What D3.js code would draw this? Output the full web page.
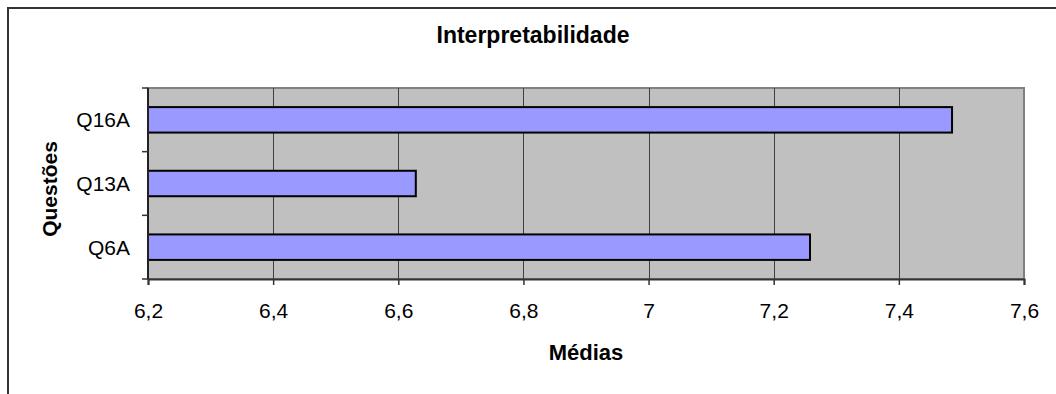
<!DOCTYPE html>
<html>
<head>
<meta charset="utf-8">
<script src="https://cdn.jsdelivr.net/npm/d3@7"></script>
<style>
  html, body { margin: 0; padding: 0; background: #fff; }
  svg { display: block; font-family: "Liberation Sans", Arial, sans-serif; }
</style>
</head>
<body>
<svg id="chart" width="1056" height="394"></svg>
<script>
// Mean scores per question (top to bottom as drawn)
const categories = ["Q16A", "Q13A", "Q6A"];
const values = [7.485, 6.628, 7.258];
const xTicks = [6.2, 6.4, 6.6, 6.8, 7.0, 7.2, 7.4, 7.6];

const title = "Interpretabilidade";
const xTitle = "Médias";
const yTitle = "Questões";

const svg = d3.select("#chart");
const W = 1056, H = 394;
const plot = { left: 148, top: 88, right: 1024, bottom: 279 };

// Outer chart frame (runs past the right and bottom edges)
svg.append("rect")
  .attr("x", 8).attr("y", 8)
  .attr("width", W + 10).attr("height", H + 10)
  .attr("fill", "#fff").attr("stroke", "#333").attr("stroke-width", 2);

const x = d3.scaleLinear().domain([6.2, 7.6]).range([plot.left, plot.right]);
const y = d3.scaleBand().domain(categories).range([plot.top, plot.bottom]).paddingInner(0.6).paddingOuter(0.3);
const yBand = d3.scaleBand().domain(categories).range([plot.top, plot.bottom]);

// Plot background
svg.append("rect")
  .attr("x", plot.left).attr("y", plot.top)
  .attr("width", plot.right - plot.left).attr("height", plot.bottom - plot.top)
  .attr("fill", "#c0c0c0").attr("stroke", "#808080").attr("stroke-width", 2);

// Vertical gridlines
svg.append("g").selectAll("line")
  .data(xTicks.slice(1, -1))
  .join("line")
  .attr("x1", d => Math.round(x(d)) + 0.5).attr("x2", d => Math.round(x(d)) + 0.5)
  .attr("y1", plot.top).attr("y2", plot.bottom)
  .attr("stroke", "#404040").attr("stroke-width", 1);

// Bars
svg.append("g").selectAll("rect")
  .data(categories)
  .join("rect")
  .attr("x", x(6.2))
  .attr("y", d => y(d))
  .attr("width", (d, i) => x(values[i]) - x(6.2))
  .attr("height", y.bandwidth())
  .attr("fill", "#9999ff").attr("stroke", "#000").attr("stroke-width", 2);

// X axis
const xAxis = d3.axisBottom(x)
  .tickValues(xTicks)
  .tickSize(6)
  .tickPadding(18)
  .tickFormat(d => d3.format("~g")(d).replace(".", ","));
const gx = svg.append("g").attr("transform", `translate(0,${plot.bottom})`).call(xAxis);
gx.select(".domain").attr("stroke", "#333").attr("stroke-width", 2);
gx.selectAll(".tick line").attr("stroke", "#333").attr("stroke-width", 1.5);
gx.selectAll(".tick text").attr("font-size", 21).attr("fill", "#000")
  .attr("font-family", "Liberation Sans, Arial, sans-serif");

// Y axis: ticks sit on category boundaries
const gy = svg.append("g").attr("transform", `translate(${plot.left},0)`);
gy.append("line")
  .attr("x1", 0).attr("x2", 0).attr("y1", plot.top).attr("y2", plot.bottom)
  .attr("stroke", "#222").attr("stroke-width", 2);
const boundaries = categories.map(c => yBand(c)).concat([plot.bottom]);
gy.selectAll("line.tick")
  .data(boundaries)
  .join("line")
  .attr("class", "tick")
  .attr("x1", -6).attr("x2", 0)
  .attr("y1", d => d).attr("y2", d => d)
  .attr("stroke", "#333").attr("stroke-width", 1.5);
gy.selectAll("text")
  .data(categories)
  .join("text")
  .attr("x", -18)
  .attr("y", d => yBand(d) + yBand.bandwidth() / 2)
  .attr("dy", "0.35em")
  .attr("text-anchor", "end")
  .attr("font-size", 21)
  .text(d => d);

// Titles
svg.append("text")
  .attr("x", 533).attr("y", 43)
  .attr("text-anchor", "middle")
  .attr("font-size", 23).attr("font-weight", "bold")
  .text(title);

svg.append("text")
  .attr("x", (plot.left + plot.right) / 2).attr("y", 360)
  .attr("text-anchor", "middle")
  .attr("font-size", 22).attr("font-weight", "bold")
  .text(xTitle);

svg.append("text")
  .attr("transform", "translate(57,189) rotate(-90)")
  .attr("text-anchor", "middle")
  .attr("font-size", 21).attr("font-weight", "bold")
  .text(yTitle);
</script>
</body>
</html>
